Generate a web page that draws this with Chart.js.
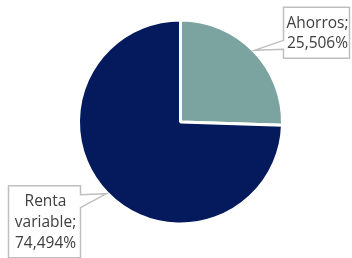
<!DOCTYPE html>
<html>
<head>
<meta charset="utf-8">
<script src="https://cdn.jsdelivr.net/npm/chart.js@4"></script>
<style>
  html, body { margin: 0; padding: 0; background: #fff; }
  canvas { display: block; }
</style>
</head>
<body>
<canvas id="tarta" width="352" height="258"></canvas>
<script>
const categories = ["Ahorros", "Renta variable"];
const shares = [25.506, 74.494];
const colors = ["#7ba39f", "#041a5c"];

// turn "Renta variable" + 74.494 into ["Renta", "variable;", "74,494%"]
function labelLines(name, value) {
  const words = name.split(" ");
  words[words.length - 1] += ";";
  return [...words, value.toFixed(3).replace(".", ",") + "%"];
}

// callout box placement relative to the slice's pointer tip
const callouts = [
  { dx: 29, dy: -43, w: 66, h: 51, side: "left", p1: -10, p2: -1, rows: [15, 35] },
  { dx: -98, dy: -8, w: 72, h: 72, side: "right", p1: 1, p2: 14, rows: [15, 36, 57] }
];

const calloutPlugin = {
  id: "callouts",
  afterDatasetsDraw(chart) {
    const ctx = chart.ctx;
    const meta = chart.getDatasetMeta(0);
    meta.data.forEach((arc, i) => {
      const p = arc.getProps(["x", "y", "startAngle", "endAngle", "outerRadius"], true);
      const mid = (p.startAngle + p.endAngle) / 2;
      const tx = p.x + Math.cos(mid) * (p.outerRadius + 1);
      const ty = p.y + Math.sin(mid) * (p.outerRadius + 1);
      const c = callouts[i];
      const bx = tx + c.dx, by = ty + c.dy;

      ctx.save();
      ctx.beginPath();
      if (c.side === "left") {
        ctx.moveTo(bx, by);
        ctx.lineTo(bx + c.w, by);
        ctx.lineTo(bx + c.w, by + c.h);
        ctx.lineTo(bx, by + c.h);
        ctx.lineTo(bx, ty + c.p2);
        ctx.lineTo(tx, ty);
        ctx.lineTo(bx, ty + c.p1);
      } else {
        const rx = bx + c.w;
        ctx.moveTo(bx, by);
        ctx.lineTo(rx, by);
        ctx.lineTo(rx, ty + c.p1);
        ctx.lineTo(tx, ty);
        ctx.lineTo(rx, ty + c.p2);
        ctx.lineTo(rx, by + c.h);
        ctx.lineTo(bx, by + c.h);
      }
      ctx.closePath();
      ctx.fillStyle = "#ffffff";
      ctx.fill();
      ctx.strokeStyle = "#bfbfbf";
      ctx.lineWidth = 1.5;
      ctx.stroke();

      ctx.fillStyle = "#404040";
      ctx.font = "15.5px 'Open Sans'";
      ctx.textAlign = "center";
      ctx.textBaseline = "middle";
      labelLines(categories[i], shares[i]).forEach((line, k) => {
        ctx.fillText(line, bx + c.w / 2 + 1, by + c.rows[k] + 1);
      });
      ctx.restore();
    });
  }
};

new Chart(document.getElementById("tarta").getContext("2d"), {
  type: "pie",
  data: {
    labels: categories,
    datasets: [{
      data: shares,
      backgroundColor: colors,
      borderColor: "#ffffff",
      borderWidth: 3
    }]
  },
  options: {
    responsive: false,
    animation: false,
    radius: 102,
    layout: { padding: { left: 79, right: 70, top: 19, bottom: 33 } },
    plugins: {
      legend: { display: false },
      tooltip: { enabled: false }
    }
  },
  plugins: [calloutPlugin]
});
</script>
</body>
</html>
